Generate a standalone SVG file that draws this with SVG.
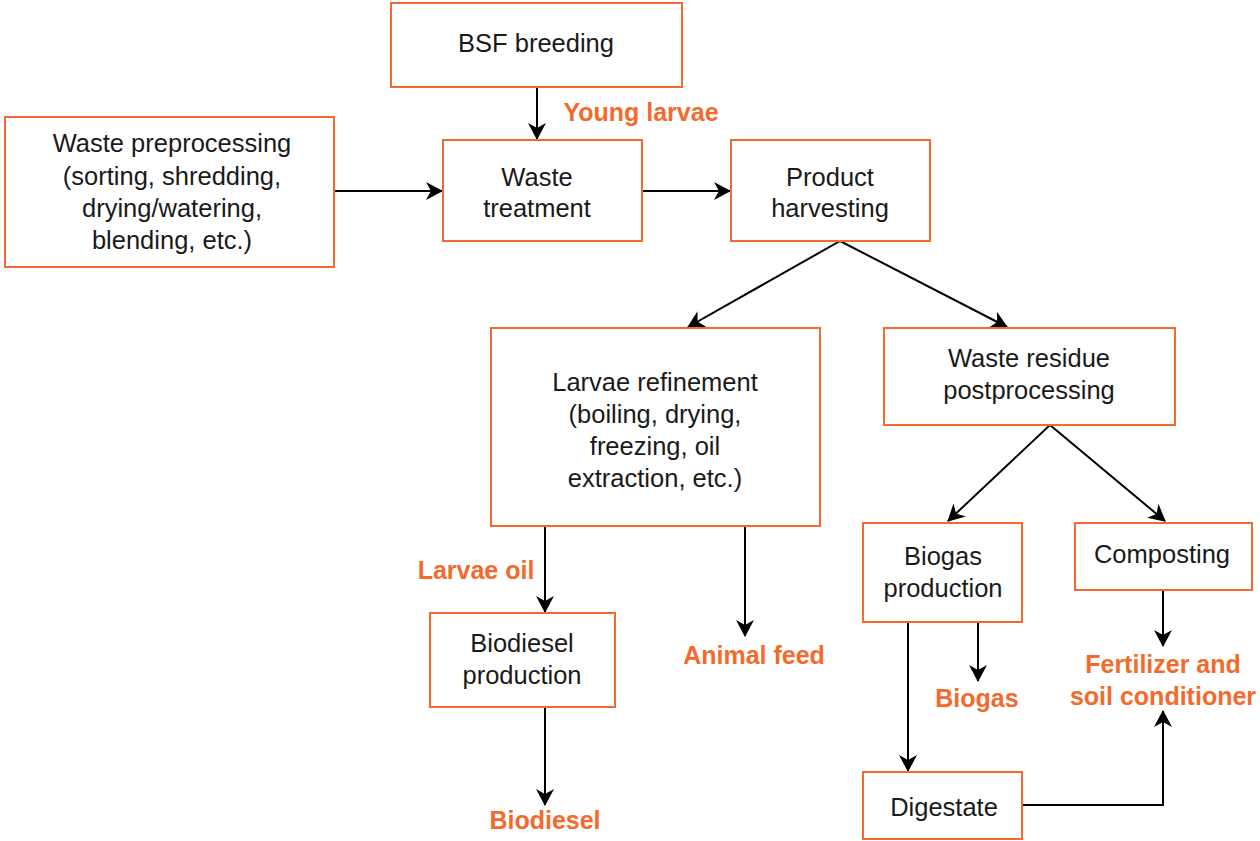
<svg xmlns="http://www.w3.org/2000/svg" width="1260" height="841" viewBox="0 0 1260 841">
<defs>
<style>
.box{fill:#fff;stroke:#F26B2D;stroke-width:2}
.t{font-family:"Liberation Sans",Arial,sans-serif;font-size:25.5px;fill:#1a1a1a;text-anchor:middle}
.o{font-family:"Liberation Sans",Arial,sans-serif;font-size:25px;font-weight:bold;fill:#F26B2D;text-anchor:middle}
.c{fill:none;stroke:#000;stroke-width:2;marker-end:url(#ah)}
</style>
<marker id="ah" viewBox="0 0 17 18" refX="16" refY="9" markerWidth="17" markerHeight="18" markerUnits="userSpaceOnUse" orient="auto">
<path d="M0,0 L17,9 L0,18 L5,9 z" fill="#000"/>
</marker>
</defs>
<rect width="1260" height="841" fill="#fff"/>
<g id="connectors">
<path class="c" d="M537,87 V139"/>
<path class="c" d="M334,191 H442"/>
<path class="c" d="M642,191 H730"/>
<path class="c" d="M840,241 L688,327"/>
<path class="c" d="M840,241 L1007,327"/>
<path class="c" d="M1050,425 L948,521"/>
<path class="c" d="M1050,425 L1165,521"/>
<path class="c" d="M545,526 V612"/>
<path class="c" d="M745,526 V636"/>
<path class="c" d="M545,707 V805"/>
<path class="c" d="M908,622 V771"/>
<path class="c" d="M978,622 V681"/>
<path class="c" d="M1163,590 V646"/>
<path class="c" d="M1022,805 H1163 V711"/>
</g>
<g id="bsf"><rect class="box" x="391" y="3" width="291" height="84"/><text class="t" x="536" y="52">BSF breeding</text></g>
<g id="young"><text class="o" x="641" y="121">Young larvae</text></g>
<g id="prep"><rect class="box" x="5" y="117" width="329" height="150"/>
<text class="t" x="172" y="152">Waste preprocessing</text>
<text class="t" x="172" y="185">(sorting, shredding,</text>
<text class="t" x="172" y="217">drying/watering,</text>
<text class="t" x="172" y="249">blending, etc.)</text></g>
<g id="treat"><rect class="box" x="443" y="140" width="199" height="101"/>
<text class="t" x="537" y="186">Waste</text><text class="t" x="537" y="217">treatment</text></g>
<g id="harvest"><rect class="box" x="731" y="140" width="199" height="101"/>
<text class="t" x="830" y="186">Product</text><text class="t" x="830" y="217">harvesting</text></g>
<g id="refine"><rect class="box" x="491" y="328" width="329" height="198"/>
<text class="t" x="655" y="391">Larvae refinement</text>
<text class="t" x="655" y="423">(boiling, drying,</text>
<text class="t" x="655" y="455">freezing, oil</text>
<text class="t" x="655" y="487">extraction, etc.)</text></g>
<g id="residue"><rect class="box" x="884" y="328" width="291" height="97"/>
<text class="t" x="1029" y="367">Waste residue</text><text class="t" x="1029" y="399">postprocessing</text></g>
<g id="biogasprod"><rect class="box" x="863" y="523" width="159" height="99"/>
<text class="t" x="943" y="565">Biogas</text><text class="t" x="943" y="597">production</text></g>
<g id="compost"><rect class="box" x="1075" y="523" width="177" height="67"/>
<text class="t" x="1162" y="563">Composting</text></g>
<g id="digestate"><rect class="box" x="863" y="772" width="159" height="67"/>
<text class="t" x="944" y="816">Digestate</text></g>
<g id="biodieselprod"><rect class="box" x="430" y="613" width="185" height="94"/>
<text class="t" x="522" y="652">Biodiesel</text><text class="t" x="522" y="684">production</text></g>
<g id="larvaeoil"><text class="o" x="476" y="579">Larvae oil</text></g>
<g id="feed"><text class="o" x="754" y="664">Animal feed</text></g>
<g id="biodiesel"><text class="o" x="545" y="829">Biodiesel</text></g>
<g id="biogas"><text class="o" x="977" y="707">Biogas</text></g>
<g id="fert"><text class="o" x="1163" y="673">Fertilizer and</text><text class="o" x="1163" y="705">soil conditioner</text></g>
</svg>
